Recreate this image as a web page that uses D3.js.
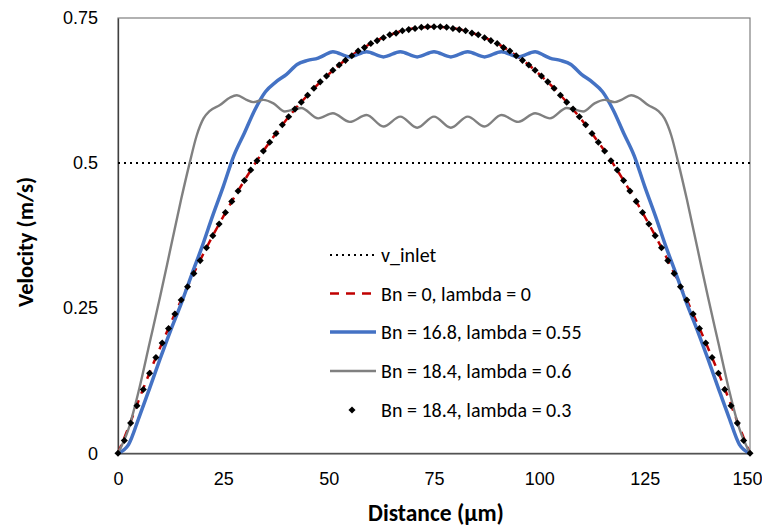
<!DOCTYPE html>
<html>
<head>
<meta charset="utf-8">
<script src="https://cdn.jsdelivr.net/npm/d3@7"></script>
<style>
  html, body { margin: 0; padding: 0; background: #fff; }
  svg { display: block; font-family: Carlito, Lato, "Liberation Sans", sans-serif; }
</style>
</head>
<body>
<svg id="chart" width="762" height="529"></svg>
<script>
// ---- data: velocity profiles across the channel ----
const xTicks = [0, 25, 50, 75, 100, 125, 150];
const yTicks = [0, 0.25, 0.5, 0.75];
const yTickLabels = ["0", "0.25", "0.5", "0.75"];

const vInlet = 0.5;

// Bn = 0, lambda = 0
const newtonX = [0, 2.5, 5, 7.5, 10, 12.5, 15, 17.5, 20, 22.5, 25, 27.5, 30, 32.5, 35, 37.5, 40, 42.5, 45, 47.5, 50, 52.5, 55, 57.5, 60, 62.5, 65, 67.5, 70, 72.5, 75,
  77.5, 80, 82.5, 85, 87.5, 90, 92.5, 95, 97.5, 100, 102.5, 105, 107.5, 110, 112.5, 115, 117.5, 120, 122.5, 125, 127.5, 130, 132.5, 135, 137.5, 140, 142.5, 145, 147.5, 150];
const newtonV = [0, 0.045, 0.093, 0.139, 0.182, 0.224, 0.264, 0.303, 0.340, 0.375, 0.408, 0.440, 0.470, 0.499, 0.526, 0.551, 0.575, 0.597, 0.617, 0.636, 0.653, 0.669, 0.683, 0.695, 0.706, 0.715, 0.722, 0.728, 0.732, 0.734, 0.735,
  0.734, 0.732, 0.728, 0.722, 0.715, 0.706, 0.695, 0.683, 0.669, 0.653, 0.636, 0.617, 0.597, 0.575, 0.551, 0.526, 0.499, 0.470, 0.440, 0.408, 0.375, 0.340, 0.303, 0.264, 0.224, 0.182, 0.139, 0.093, 0.045, 0];

// Bn = 16.8, lambda = 0.55
const bn168X = [0, 2.5, 5, 7.5, 10, 12.5, 15, 17.5, 20, 22.5, 25, 27.5, 30, 32.5, 35, 37.5, 40, 42.5, 45, 47.5, 49, 51, 55, 59, 63, 67, 71, 75,
  79, 83, 87, 91, 95, 99, 101, 102.5, 105, 107.5, 110, 112.5, 115, 117.5, 120, 122.5, 125, 127.5, 130, 132.5, 135, 137.5, 140, 142.5, 145, 147.5, 150];
const bn168V = [0, 0.015, 0.062, 0.112, 0.163, 0.212, 0.258, 0.308, 0.357, 0.410, 0.460, 0.513, 0.552, 0.592, 0.623, 0.640, 0.653, 0.670, 0.677, 0.681, 0.686, 0.692, 0.683, 0.692, 0.683, 0.692, 0.683, 0.692,
  0.683, 0.692, 0.683, 0.692, 0.683, 0.692, 0.686, 0.681, 0.677, 0.670, 0.653, 0.640, 0.623, 0.592, 0.552, 0.513, 0.460, 0.410, 0.357, 0.308, 0.258, 0.212, 0.163, 0.112, 0.062, 0.015, 0];

// Bn = 18.4, lambda = 0.6
const bn184X = [0, 2.5, 5, 7.5, 10, 12.5, 15, 17, 18.7, 20.3, 21.8, 24.2, 26.6, 28.2, 30.5, 32.1, 34.5, 36.9, 39.6, 43.5, 47.5, 51, 55, 59, 63, 67, 71, 75,
  79, 83, 87, 91, 95, 99, 102.5, 106.5, 110.4, 113.1, 115.5, 117.9, 119.5, 121.8, 123.4, 125.8, 128.2, 129.7, 131.3, 133, 135, 137.5, 140, 142.5, 145, 147.5, 150];
const bn184V = [0, 0.042, 0.110, 0.190, 0.270, 0.354, 0.438, 0.500, 0.548, 0.577, 0.590, 0.600, 0.613, 0.617, 0.609, 0.605, 0.609, 0.603, 0.589, 0.595, 0.577, 0.586, 0.571, 0.583, 0.563, 0.580, 0.561, 0.580,
  0.561, 0.580, 0.563, 0.583, 0.571, 0.586, 0.577, 0.595, 0.589, 0.603, 0.609, 0.605, 0.609, 0.617, 0.613, 0.600, 0.590, 0.577, 0.548, 0.500, 0.438, 0.354, 0.270, 0.190, 0.110, 0.042, 0];

// Bn = 18.4, lambda = 0.3 (sampled points)
const bn184bX = [0, 1.5, 3, 4.5, 6, 7.5, 9, 10.5, 12, 13.5, 15, 16.5, 18, 19.5, 21, 22.5, 24, 25.5, 27, 28.5, 30, 31.5, 33, 34.5, 36, 37.5, 39, 40.5, 42, 43.5, 45, 46.5, 48, 49.5,
  51, 52.5, 54, 55.5, 57, 58.5, 60, 61.5, 63, 64.5, 66, 67.5, 69, 70.5, 72, 73.5, 75, 76.5, 78, 79.5, 81, 82.5, 84, 85.5, 87, 88.5, 90, 91.5, 93, 94.5, 96, 97.5, 99, 100.5,
  102, 103.5, 105, 106.5, 108, 109.5, 111, 112.5, 114, 115.5, 117, 118.5, 120, 121.5, 123, 124.5, 126, 127.5, 129, 130.5, 132, 133.5, 135, 136.5, 138, 139.5, 141, 142.5, 144, 145.5, 147, 148.5, 150];
const bn184bV = [0, 0.022, 0.052, 0.082, 0.110, 0.138, 0.165, 0.190, 0.215, 0.240, 0.264, 0.287, 0.310, 0.332, 0.354, 0.375, 0.395, 0.415, 0.434, 0.452, 0.470, 0.488, 0.504, 0.521, 0.536, 0.551, 0.566, 0.580, 0.593, 0.605, 0.617, 0.629, 0.640, 0.650,
  0.660, 0.669, 0.677, 0.685, 0.693, 0.699, 0.706, 0.711, 0.716, 0.721, 0.724, 0.728, 0.730, 0.732, 0.734, 0.735, 0.735, 0.735, 0.734, 0.732, 0.730, 0.728, 0.724, 0.721, 0.716, 0.711, 0.706, 0.699, 0.693, 0.685, 0.677, 0.669, 0.660, 0.650,
  0.640, 0.629, 0.617, 0.605, 0.593, 0.580, 0.566, 0.551, 0.536, 0.521, 0.504, 0.488, 0.470, 0.452, 0.434, 0.415, 0.395, 0.375, 0.354, 0.332, 0.310, 0.287, 0.264, 0.240, 0.215, 0.190, 0.165, 0.138, 0.110, 0.082, 0.052, 0.022, 0];

const legendLabels = ["v_inlet", "Bn = 0, lambda = 0", "Bn = 16.8, lambda = 0.55", "Bn = 18.4, lambda = 0.6", "Bn = 18.4, lambda = 0.3"];

// ---- layout ----
const svg = d3.select("#chart");
const W = 762, H = 529;
const margin = { left: 118, right: 12, top: 18, bottom: 75.7 };
const pw = W - margin.left - margin.right;
const ph = H - margin.top - margin.bottom;

const x = d3.scaleLinear().domain([0, 150]).range([margin.left, margin.left + pw]);
const y = d3.scaleLinear().domain([0, 0.75]).range([margin.top + ph, margin.top]);

const zip = (xs, vs) => xs.map((d, i) => ({ x: d, v: vs[i] }));

// plot-area frame (top/right)
svg.append("rect")
  .attr("x", x(0)).attr("y", y(0.75))
  .attr("width", x(150) - x(0)).attr("height", y(0) - y(0.75))
  .attr("fill", "none").attr("stroke", "#7f7f7f").attr("stroke-width", 1.2);

// axes
const yAxis = d3.axisLeft(y).tickValues(yTicks).tickSize(0).tickPadding(20)
  .tickFormat((d, i) => yTickLabels[i]);
const xAxis = d3.axisBottom(x).tickValues(xTicks).tickSize(0).tickPadding(19)
  .tickFormat(d3.format("d"));

const gy = svg.append("g").attr("transform", `translate(${x(0)},0)`).call(yAxis);
const gx = svg.append("g").attr("transform", `translate(0,${y(0)})`).call(xAxis);
[gx, gy].forEach(g => {
  g.select(".domain").attr("stroke", "#404040").attr("stroke-width", 1.3);
  g.selectAll("text").attr("font-size", 18).attr("fill", "#000").attr("font-family", null);
});
// keep the last x label inside the chart edge
gx.selectAll(".tick").filter(d => d === 150).select("text")
  .attr("text-anchor", "end").attr("dx", 12);

// axis titles
svg.append("text")
  .attr("x", (x(0) + x(150)) / 2 + 2).attr("y", 521)
  .attr("text-anchor", "middle").attr("font-size", 23.5).attr("font-weight", "bold")
  .text("Distance (\u00b5m)");
svg.append("text")
  .attr("transform", `translate(33,242) rotate(-90)`)
  .attr("text-anchor", "middle").attr("font-size", 22.5).attr("font-weight", "bold")
  .text("Velocity (m/s)");

// series
const line = d3.line().x(d => x(d.x)).y(d => y(d.v)).curve(d3.curveMonotoneX);
const plot = svg.append("g");

// inlet velocity reference
plot.append("path")
  .datum([{ x: 0, v: vInlet }, { x: 150, v: vInlet }])
  .attr("d", d3.line().x(d => x(d.x)).y(d => y(d.v)))
  .attr("fill", "none").attr("stroke", "#000").attr("stroke-width", 2)
  .attr("stroke-dasharray", "2,4");

const styles = [
  { color: "#000", width: 2, dash: "2,4" },
  { color: "#c00000", width: 2.5, dash: "9,7" },
  { color: "#4472c4", width: 3.5, dash: null },
  { color: "#808080", width: 2.4, dash: null }
];

[[newtonX, newtonV], [bn168X, bn168V], [bn184X, bn184V]].forEach((s, i) => {
  const st = styles[i + 1];
  plot.append("path")
    .datum(zip(s[0], s[1]))
    .attr("d", line)
    .attr("fill", "none").attr("stroke", st.color).attr("stroke-width", st.width)
    .attr("stroke-dasharray", st.dash)
    .attr("stroke-linejoin", "round");
});

const diamond = d3.symbol().type(d3.symbolSquare).size(25);
plot.selectAll("path.pt")
  .data(zip(bn184bX, bn184bV))
  .join("path").attr("class", "pt")
  .attr("d", diamond)
  .attr("transform", d => `translate(${x(d.x)},${y(d.v)}) rotate(45)`)
  .attr("fill", "#000");

// legend
const leg = svg.append("g");
const rowY = [255, 293.5, 332, 371, 410];
legendLabels.forEach((lab, i) => {
  const g = leg.append("g").attr("transform", `translate(0,${rowY[i]})`);
  if (i < 4) {
    const st = styles[i];
    g.append("line").attr("x1", 330).attr("x2", 376).attr("y1", 0).attr("y2", 0)
      .attr("stroke", st.color).attr("stroke-width", st.width)
      .attr("stroke-dasharray", st.dash);
  } else {
    g.append("path").attr("d", diamond).attr("transform", "translate(352,0) rotate(45)").attr("fill", "#000");
  }
  g.append("text").attr("x", 381).attr("y", 0).attr("dy", "0.35em")
    .attr("font-size", 20).text(lab);
});
</script>
</body>
</html>
